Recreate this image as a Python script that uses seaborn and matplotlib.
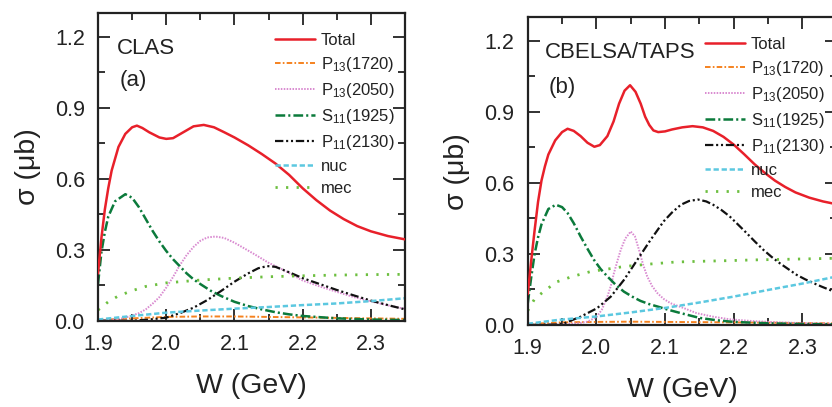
import matplotlib
matplotlib.use("Agg")
import matplotlib.pyplot as plt
import seaborn as sns

# ---------------- data: panel (a) CLAS ----------------
a_total_W = [1.900, 1.905, 1.910, 1.915, 1.920, 1.930, 1.940, 1.950, 1.957, 1.965, 1.975, 1.990,
             2.000, 2.010, 2.025, 2.040, 2.055, 2.070, 2.085, 2.100, 2.120, 2.140, 2.160, 2.180,
             2.200, 2.220, 2.240, 2.260, 2.280, 2.300, 2.325, 2.350]
a_total = [0.20, 0.35, 0.47, 0.56, 0.635, 0.735, 0.79, 0.818, 0.825, 0.815, 0.797, 0.775,
           0.769, 0.772, 0.797, 0.822, 0.828, 0.818, 0.797, 0.775, 0.742, 0.705, 0.665, 0.617,
           0.56, 0.51, 0.466, 0.43, 0.40, 0.378, 0.358, 0.344]

a_p1720_W = [1.90, 1.95, 2.00, 2.05, 2.10, 2.15, 2.20, 2.25, 2.30, 2.35]
a_p1720 = [0.003, 0.010, 0.016, 0.018, 0.018, 0.016, 0.014, 0.012, 0.010, 0.008]

a_p2050_W = [1.900, 1.930, 1.945, 1.960, 1.970, 1.980, 1.990, 2.000, 2.010, 2.020, 2.030, 2.040,
             2.050, 2.060, 2.072, 2.085, 2.100, 2.115, 2.130, 2.150, 2.175, 2.200, 2.225, 2.250,
             2.275, 2.300, 2.325, 2.350]
a_p2050 = [0.0, 0.006, 0.017, 0.032, 0.048, 0.072, 0.10, 0.14, 0.185, 0.235, 0.278, 0.312,
           0.338, 0.352, 0.356, 0.35, 0.33, 0.305, 0.28, 0.245, 0.21, 0.17, 0.145, 0.122,
           0.10, 0.082, 0.065, 0.05]

a_s1925_W = [1.900, 1.905, 1.910, 1.915, 1.925, 1.940, 1.950, 1.960, 1.970, 1.980, 1.990, 2.000,
             2.010, 2.020, 2.030, 2.040, 2.050, 2.065, 2.080, 2.100, 2.120, 2.140, 2.160, 2.180,
             2.200, 2.250, 2.300, 2.350]
a_s1925 = [0.155, 0.29, 0.375, 0.44, 0.505, 0.535, 0.52, 0.48, 0.43, 0.38, 0.335, 0.295,
           0.26, 0.23, 0.20, 0.175, 0.155, 0.127, 0.105, 0.08, 0.062, 0.048, 0.036, 0.027,
           0.02, 0.01, 0.005, 0.003]

a_p2130_W = [1.900, 1.950, 1.975, 2.000, 2.020, 2.040, 2.060, 2.080, 2.100, 2.120, 2.135, 2.148,
             2.160, 2.180, 2.200, 2.225, 2.250, 2.275, 2.300, 2.325, 2.350]
a_p2130 = [0.0, 0.0, 0.005, 0.013, 0.032, 0.055, 0.087, 0.125, 0.165, 0.20, 0.222, 0.231,
           0.228, 0.205, 0.18, 0.155, 0.13, 0.107, 0.085, 0.066, 0.048]

a_nuc_W = [1.90, 1.95, 2.00, 2.05, 2.10, 2.15, 2.20, 2.25, 2.30, 2.35]
a_nuc = [0.005, 0.02, 0.034, 0.043, 0.051, 0.058, 0.066, 0.073, 0.083, 0.095]

a_mec_W = [1.900, 1.915, 1.930, 1.950, 1.970, 2.000, 2.050, 2.100, 2.150, 2.200, 2.250, 2.300, 2.350]
a_mec = [0.045, 0.08, 0.105, 0.127, 0.145, 0.16, 0.172, 0.18, 0.186, 0.19, 0.193, 0.195, 0.196]

# ---------------- data: panel (b) CBELSA/TAPS ----------------
b_total_W = [1.900, 1.905, 1.910, 1.915, 1.920, 1.925, 1.930, 1.940, 1.950, 1.958, 1.967, 1.977,
             1.987, 1.997, 2.005, 2.016, 2.025, 2.033, 2.041, 2.049, 2.057, 2.0645, 2.071, 2.077,
             2.083, 2.090, 2.100, 2.110, 2.125, 2.140, 2.155, 2.170, 2.185, 2.200, 2.215, 2.230,
             2.245, 2.260, 2.275, 2.290, 2.310, 2.330, 2.350]
b_total = [0.13, 0.27, 0.40, 0.52, 0.61, 0.67, 0.72, 0.78, 0.815, 0.829, 0.82, 0.798,
           0.77, 0.753, 0.76, 0.798, 0.86, 0.935, 0.99, 1.013, 0.985, 0.935, 0.88, 0.845,
           0.822, 0.815, 0.818, 0.826, 0.835, 0.84, 0.835, 0.82, 0.795, 0.762, 0.722, 0.68,
           0.643, 0.61, 0.583, 0.56, 0.538, 0.522, 0.51]

b_p1720_W = [1.90, 1.95, 2.00, 2.05, 2.10, 2.15, 2.20, 2.25, 2.30, 2.35]
b_p1720 = [0.004, 0.011, 0.013, 0.014, 0.013, 0.012, 0.011, 0.010, 0.008, 0.007]

b_p2050_W = [1.900, 1.950, 1.975, 1.987, 2.000, 2.008, 2.016, 2.021, 2.0255, 2.031, 2.0355, 2.042,
             2.050, 2.056, 2.062, 2.068, 2.074, 2.081, 2.089, 2.098, 2.108, 2.1275, 2.146, 2.170,
             2.194, 2.230, 2.267, 2.300, 2.350]
b_p2050 = [0.0, 0.002, 0.008, 0.014, 0.033, 0.065, 0.12, 0.165, 0.219, 0.275, 0.318, 0.365,
           0.395, 0.375, 0.318, 0.255, 0.205, 0.165, 0.134, 0.11, 0.092, 0.071, 0.05, 0.035,
           0.024, 0.016, 0.011, 0.008, 0.005]

b_s1925_W = [1.900, 1.905, 1.910, 1.915, 1.920, 1.930, 1.941, 1.950, 1.958, 1.967, 1.977, 1.987,
             1.9965, 2.006, 2.016, 2.028, 2.040, 2.052, 2.064, 2.076, 2.089, 2.105, 2.123, 2.150,
             2.175, 2.200, 2.250, 2.300, 2.350]
b_s1925 = [0.09, 0.20, 0.30, 0.37, 0.425, 0.49, 0.508, 0.498, 0.473, 0.43, 0.374, 0.322,
           0.275, 0.237, 0.205, 0.17, 0.141, 0.12, 0.102, 0.089, 0.078, 0.064, 0.05, 0.03,
           0.02, 0.013, 0.007, 0.004, 0.003]

b_p2130_W = [1.900, 1.940, 1.953, 1.977, 2.001, 2.021, 2.040, 2.0595, 2.079, 2.098, 2.110, 2.123,
             2.135, 2.148, 2.160, 2.170, 2.182, 2.194, 2.206, 2.2185, 2.231, 2.243, 2.255, 2.267,
             2.280, 2.2915, 2.304, 2.316, 2.328, 2.340, 2.350]
b_p2130 = [0.0, 0.002, 0.007, 0.035, 0.071, 0.12, 0.19, 0.275, 0.36, 0.438, 0.475, 0.508,
           0.524, 0.53, 0.522, 0.508, 0.486, 0.459, 0.425, 0.389, 0.352, 0.318, 0.288, 0.261,
           0.235, 0.212, 0.193, 0.177, 0.162, 0.148, 0.138]

b_nuc_W = [1.90, 1.943, 2.00, 2.05, 2.10, 2.15, 2.20, 2.25, 2.30, 2.35]
b_nuc = [0.005, 0.021, 0.036, 0.053, 0.072, 0.095, 0.12, 0.148, 0.175, 0.205]

b_mec_W = [1.900, 1.910, 1.926, 1.943, 1.965, 1.992, 2.020, 2.040, 2.080, 2.115, 2.150, 2.194,
           2.230, 2.267, 2.300, 2.350]
b_mec = [0.06, 0.11, 0.148, 0.183, 0.205, 0.226, 0.238, 0.247, 0.258, 0.266, 0.269, 0.272,
         0.275, 0.277, 0.279, 0.282]

series_labels = ['Total', 'P$_{13}$(1720)', 'P$_{13}$(2050)', 'S$_{11}$(1925)',
                 'P$_{11}$(2130)', 'nuc', 'mec']
x_ticks = [1.9, 2.0, 2.1, 2.2, 2.3]
y_ticks = [0.0, 0.3, 0.6, 0.9, 1.2]

# ---------------- styles ----------------
colors = ['#e8202a', '#f5821f', '#d98ad0', '#0b7a3b', '#111111', '#5cc8e0', '#6dbf3f']
styles = ['-', (0, (4, 1.6, 1.2, 1.6)), (0, (1.1, 1.0)), (0, (7, 2.2, 1.5, 2.2)),
          (0, (6, 2, 1.5, 2, 1.5, 2)), (0, (3.8, 2.0)), (0, (1.6, 6.0))]
widths = [1.8, 1.4, 1.4, 1.8, 1.6, 1.8, 2.0]

sns.set_theme(style='ticks')
plt.rcParams['font.family'] = ['Liberation Sans', 'DejaVu Sans']
plt.rcParams['mathtext.fontset'] = 'custom'
plt.rcParams['mathtext.rm'] = 'Liberation Sans'
plt.rcParams['mathtext.it'] = 'Liberation Sans:italic'
plt.rcParams['lines.scale_dashes'] = False

fig = plt.figure(figsize=(8.32, 4.07), dpi=100)
axA = fig.add_axes([0.1178, 0.212, 0.369, 0.7553])
axB = fig.add_axes([0.6343, 0.2015, 0.3714, 0.756])

panelA = [(a_total_W, a_total), (a_p1720_W, a_p1720), (a_p2050_W, a_p2050),
          (a_s1925_W, a_s1925), (a_p2130_W, a_p2130), (a_nuc_W, a_nuc), (a_mec_W, a_mec)]
panelB = [(b_total_W, b_total), (b_p1720_W, b_p1720), (b_p2050_W, b_p2050),
          (b_s1925_W, b_s1925), (b_p2130_W, b_p2130), (b_nuc_W, b_nuc), (b_mec_W, b_mec)]

panels = [(axA, panelA, 'CLAS', '(a)', 0.577, (0.062, 0.884), (0.072, 0.78)),
          (axB, panelB, 'CBELSA/TAPS', '(b)', 0.573, (0.057, 0.884), (0.068, 0.773))]

for ax, panel, name, tag, lgx, npos, tpos in panels:
    for (w, s), lab, c, ls, lw in zip(panel, series_labels, colors, styles, widths):
        sns.lineplot(x=w, y=s, ax=ax, color=c, linestyle=ls, linewidth=lw, label=lab,
                     estimator=None, sort=False, zorder=3 if lab == 'Total' else 2)
    ax.set_xlim(1.9, 2.35)
    ax.set_ylim(0.0, 1.3)
    ax.set_xticks(x_ticks)
    ax.set_yticks(y_ticks)
    ax.set_xticks([1.95, 2.05, 2.15, 2.25, 2.35], minor=True)
    ax.set_yticks([0.15, 0.45, 0.75, 1.05], minor=True)
    ax.tick_params(which='both', direction='in', top=True, right=True, width=1.3,
                   color='#222222')
    ax.tick_params(which='major', length=8.5, pad=9.5)
    ax.tick_params(which='minor', length=5)
    ax.set_xticklabels([f'{v:.1f}' for v in x_ticks], fontsize=15.5, color='#222222')
    ax.set_yticklabels([f'{v:.1f}' for v in y_ticks], fontsize=15.5, color='#222222')
    for sp in ax.spines.values():
        sp.set_linewidth(1.6)
        sp.set_color('#222222')
        sp.set_visible(True)
    ax.set_xlabel('W (GeV)', fontsize=20.5, labelpad=13, color='#222222')
    ax.set_ylabel('σ (μb)', fontsize=20.5, labelpad=10, color='#222222')
    ax.text(npos[0], npos[1], name, transform=ax.transAxes, fontsize=16, color='#222222',
            va='center', ha='left')
    ax.text(tpos[0], tpos[1], tag, transform=ax.transAxes, fontsize=16, color='#222222',
            va='center', ha='left')
    leg = ax.legend(loc='upper left', bbox_to_anchor=(lgx, 0.935), frameon=False,
                    fontsize=12, handlelength=2.4, handletextpad=0.35, labelspacing=0.42,
                    borderpad=0, borderaxespad=0)
    for t in leg.get_texts():
        t.set_color('#222222')

fig.savefig('out.png', dpi=100)
